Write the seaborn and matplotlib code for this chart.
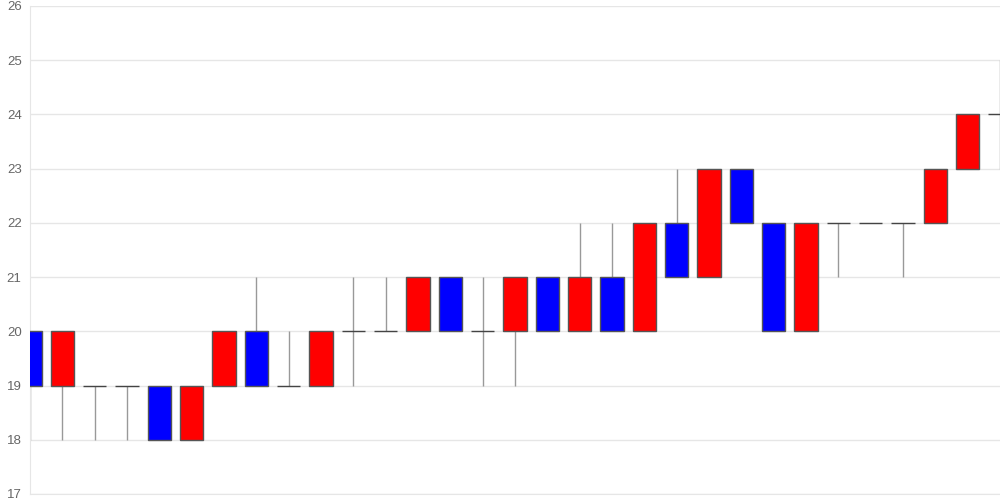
import numpy as np
import pandas as pd
import seaborn as sns
import matplotlib
matplotlib.use("Agg")
import matplotlib.pyplot as plt

# Data ------------------------------------------------------------------------
opens  = [20, 19, 19, 19, 19, 18, 19, 20, 19, 19, 20, 20, 20, 21, 20, 20,
          21, 20, 21, 20, 22, 21, 23, 22, 20, 22, 22, 22, 22, 23, 24]
closes = [19, 20, 19, 19, 18, 19, 20, 19, 19, 20, 20, 20, 21, 20, 20, 21,
          20, 21, 20, 22, 21, 23, 22, 20, 22, 22, 22, 22, 23, 24, 24]
highs  = [20, 20, 19, 19, 19, 19, 20, 21, 20, 20, 21, 21, 21, 21, 21, 21,
          21, 22, 22, 22, 23, 23, 23, 22, 22, 22, 22, 22, 23, 24, 25]
lows   = [18, 18, 18, 18, 18, 18, 19, 19, 19, 19, 19, 20, 20, 20, 19, 19,
          20, 20, 20, 20, 21, 21, 22, 20, 20, 21, 22, 21, 22, 23, 23]
y_ticks = [17, 18, 19, 20, 21, 22, 23, 24, 25, 26]

df = pd.DataFrame({"open": opens, "close": closes, "high": highs, "low": lows})
df["idx"] = np.arange(len(df))

# Plot ------------------------------------------------------------------------
sns.set_style("white")
plt.rcParams["font.family"] = ["Liberation Sans", "DejaVu Sans"]
fig = plt.figure(figsize=(10, 5), dpi=100)
ax = fig.add_axes([0.03, 0.012, 0.97, 0.976])

width = 0.73

# wicks
ax.vlines(df["idx"], df["low"], df["high"], color="#999999", lw=1, zorder=2)

# bodies
up = df[df["close"] > df["open"]]
down = df[df["close"] < df["open"]]
flat = df[df["close"] == df["open"]]
ax.bar(up["idx"], up["close"] - up["open"], bottom=up["open"], width=width,
       color="#ff0000", edgecolor="#555555", linewidth=1, zorder=3)
ax.bar(down["idx"], down["open"] - down["close"], bottom=down["close"], width=width,
       color="#0000ff", edgecolor="#555555", linewidth=1, zorder=3)
ax.hlines(flat["close"], flat["idx"] - width / 2, flat["idx"] + width / 2,
          color="#444444", lw=1, zorder=3)

ax.set_xlim(0, len(df) - 1)
ax.set_ylim(17, 26)
ax.set_yticks(y_ticks)
ax.set_xticks([])
ax.grid(axis="y", color="#e6e6e6", lw=1)
ax.set_axisbelow(True)
ax.tick_params(axis="y", length=8, color="#e6e6e6", labelsize=9.5, labelcolor="#666666", pad=-2)
sns.despine(ax=ax, top=True, right=True)
ax.spines["left"].set_color("#e6e6e6")
ax.spines["bottom"].set_color("#e6e6e6")

fig.savefig("out.png", dpi=100)
